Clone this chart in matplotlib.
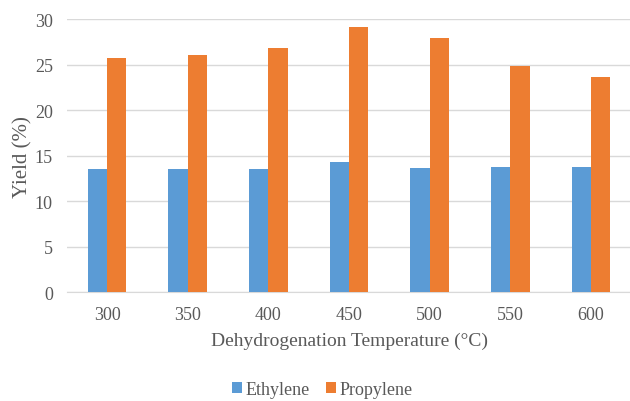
import numpy as np
import matplotlib.pyplot as plt

temperatures = ["300", "350", "400", "450", "500", "550", "600"]
ethylene = [13.6, 13.5, 13.5, 14.35, 13.7, 13.75, 13.8]
propylene = [25.75, 26.1, 26.8, 29.1, 27.9, 24.8, 23.7]

plt.rcParams["font.family"] = ["Liberation Serif", "DejaVu Serif"]
text_color = "#595959"

fig = plt.figure(figsize=(6.3, 4.02), dpi=100)
ax = fig.add_axes([0.106, 0.270, 0.896, 0.680])

x = np.arange(len(temperatures))
w = 0.24
ax.bar(x - w / 2, ethylene, w, color="#5B9BD5", label="Ethylene", zorder=3)
ax.bar(x + w / 2, propylene, w, color="#ED7D31", label="Propylene", zorder=3)

ax.set_xlim(-0.5, len(temperatures) - 0.5)
ax.set_ylim(0, 30)
ax.set_yticks(range(0, 31, 5))
ax.set_xticks(x)
ax.set_xticklabels(temperatures)
ax.grid(axis="y", color="#D9D9D9", linewidth=1.0, zorder=0)
for s in ["top", "right", "left"]:
    ax.spines[s].set_visible(False)
ax.spines["bottom"].set_color("#D9D9D9")
ax.tick_params(length=0, labelsize=13, labelcolor=text_color)
ax.tick_params(axis="x", pad=10)
ax.tick_params(axis="y", pad=10)

ax.set_xlabel("Dehydrogenation Temperature (°C)", fontsize=14, color=text_color, labelpad=6)
ax.set_ylabel("Yield (%)", fontsize=15, color=text_color, labelpad=2)

fig.legend(loc="center", bbox_to_anchor=(0.512, 0.028), ncol=2, frameon=False,
           fontsize=13, labelcolor=text_color, handlelength=0.55, handleheight=0.55,
           handletextpad=0.2, columnspacing=0.9)

fig.savefig("out.png", dpi=100)
